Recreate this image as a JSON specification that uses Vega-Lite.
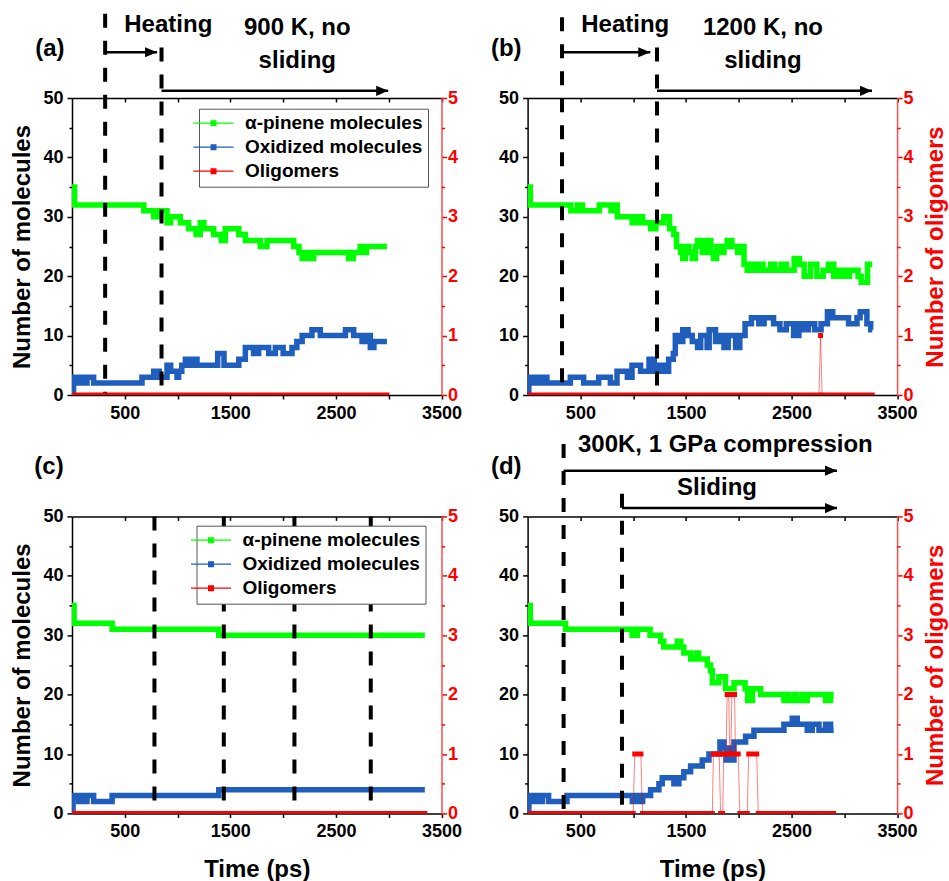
{
"$schema": "https://vega.github.io/schema/vega-lite/v6.json",
"padding": {"left": 10, "top": 11, "right": 5, "bottom": 5},
"columns": 2,
"spacing": {"row": 121.4, "column": 85.6},
"bounds": "flush",
"resolve": {"legend": {"color": "independent"}},
"config": {"view": {"stroke": null}, "font": "Liberation Sans", "axis": {"grid": false}},
"datasets": {
"series": [
{"p":"a","s":"α-pinene molecules","t":0,"y":35},{"p":"a","s":"α-pinene molecules","t":25,"y":32},{"p":"a","s":"α-pinene molecules","t":680,"y":31},{"p":"a","s":"α-pinene molecules","t":774,"y":30},{"p":"a","s":"α-pinene molecules","t":827,"y":31},{"p":"a","s":"α-pinene molecules","t":900,"y":29},{"p":"a","s":"α-pinene molecules","t":935,"y":30},{"p":"a","s":"α-pinene molecules","t":1026,"y":29},{"p":"a","s":"α-pinene molecules","t":1105,"y":28},{"p":"a","s":"α-pinene molecules","t":1175,"y":27},{"p":"a","s":"α-pinene molecules","t":1215,"y":29},{"p":"a","s":"α-pinene molecules","t":1250,"y":28},{"p":"a","s":"α-pinene molecules","t":1342,"y":27},{"p":"a","s":"α-pinene molecules","t":1414,"y":26},{"p":"a","s":"α-pinene molecules","t":1452,"y":28},{"p":"a","s":"α-pinene molecules","t":1580,"y":27},{"p":"a","s":"α-pinene molecules","t":1642,"y":26},{"p":"a","s":"α-pinene molecules","t":1784,"y":25},{"p":"a","s":"α-pinene molecules","t":1847,"y":26},{"p":"a","s":"α-pinene molecules","t":2100,"y":25},{"p":"a","s":"α-pinene molecules","t":2150,"y":24},{"p":"a","s":"α-pinene molecules","t":2180,"y":23},{"p":"a","s":"α-pinene molecules","t":2225,"y":24},{"p":"a","s":"α-pinene molecules","t":2250,"y":23},{"p":"a","s":"α-pinene molecules","t":2290,"y":24},{"p":"a","s":"α-pinene molecules","t":2620,"y":23},{"p":"a","s":"α-pinene molecules","t":2665,"y":24},{"p":"a","s":"α-pinene molecules","t":2730,"y":25},{"p":"a","s":"α-pinene molecules","t":2760,"y":24},{"p":"a","s":"α-pinene molecules","t":2790,"y":25},{"p":"a","s":"α-pinene molecules","t":2983,"y":25},
{"p":"a","s":"Oxidized molecules","t":0,"y":0},{"p":"a","s":"Oxidized molecules","t":15,"y":3},{"p":"a","s":"Oxidized molecules","t":65,"y":2},{"p":"a","s":"Oxidized molecules","t":90,"y":3},{"p":"a","s":"Oxidized molecules","t":125,"y":2},{"p":"a","s":"Oxidized molecules","t":142,"y":3},{"p":"a","s":"Oxidized molecules","t":205,"y":2},{"p":"a","s":"Oxidized molecules","t":663,"y":3},{"p":"a","s":"Oxidized molecules","t":774,"y":4},{"p":"a","s":"Oxidized molecules","t":827,"y":3},{"p":"a","s":"Oxidized molecules","t":900,"y":5},{"p":"a","s":"Oxidized molecules","t":935,"y":4},{"p":"a","s":"Oxidized molecules","t":995,"y":3},{"p":"a","s":"Oxidized molecules","t":1010,"y":4},{"p":"a","s":"Oxidized molecules","t":1040,"y":5},{"p":"a","s":"Oxidized molecules","t":1074,"y":6},{"p":"a","s":"Oxidized molecules","t":1120,"y":5},{"p":"a","s":"Oxidized molecules","t":1150,"y":6},{"p":"a","s":"Oxidized molecules","t":1184,"y":5},{"p":"a","s":"Oxidized molecules","t":1380,"y":7},{"p":"a","s":"Oxidized molecules","t":1440,"y":5},{"p":"a","s":"Oxidized molecules","t":1580,"y":6},{"p":"a","s":"Oxidized molecules","t":1642,"y":8},{"p":"a","s":"Oxidized molecules","t":1720,"y":7},{"p":"a","s":"Oxidized molecules","t":1768,"y":8},{"p":"a","s":"Oxidized molecules","t":1863,"y":7},{"p":"a","s":"Oxidized molecules","t":1926,"y":8},{"p":"a","s":"Oxidized molecules","t":2000,"y":7},{"p":"a","s":"Oxidized molecules","t":2084,"y":8},{"p":"a","s":"Oxidized molecules","t":2130,"y":9},{"p":"a","s":"Oxidized molecules","t":2180,"y":10},{"p":"a","s":"Oxidized molecules","t":2273,"y":11},{"p":"a","s":"Oxidized molecules","t":2352,"y":10},{"p":"a","s":"Oxidized molecules","t":2590,"y":11},{"p":"a","s":"Oxidized molecules","t":2668,"y":10},{"p":"a","s":"Oxidized molecules","t":2747,"y":9},{"p":"a","s":"Oxidized molecules","t":2795,"y":10},{"p":"a","s":"Oxidized molecules","t":2826,"y":8},{"p":"a","s":"Oxidized molecules","t":2860,"y":9},{"p":"a","s":"Oxidized molecules","t":2983,"y":9},
{"p":"b","s":"α-pinene molecules","t":0,"y":35},{"p":"b","s":"α-pinene molecules","t":25,"y":32},{"p":"b","s":"α-pinene molecules","t":410,"y":31},{"p":"b","s":"α-pinene molecules","t":470,"y":32},{"p":"b","s":"α-pinene molecules","t":520,"y":31},{"p":"b","s":"α-pinene molecules","t":680,"y":32},{"p":"b","s":"α-pinene molecules","t":790,"y":31},{"p":"b","s":"α-pinene molecules","t":820,"y":32},{"p":"b","s":"α-pinene molecules","t":850,"y":30},{"p":"b","s":"α-pinene molecules","t":990,"y":29},{"p":"b","s":"α-pinene molecules","t":1040,"y":30},{"p":"b","s":"α-pinene molecules","t":1090,"y":29},{"p":"b","s":"α-pinene molecules","t":1165,"y":28},{"p":"b","s":"α-pinene molecules","t":1215,"y":29},{"p":"b","s":"α-pinene molecules","t":1290,"y":30},{"p":"b","s":"α-pinene molecules","t":1345,"y":28},{"p":"b","s":"α-pinene molecules","t":1385,"y":27},{"p":"b","s":"α-pinene molecules","t":1410,"y":25},{"p":"b","s":"α-pinene molecules","t":1450,"y":24},{"p":"b","s":"α-pinene molecules","t":1470,"y":23},{"p":"b","s":"α-pinene molecules","t":1495,"y":25},{"p":"b","s":"α-pinene molecules","t":1530,"y":24},{"p":"b","s":"α-pinene molecules","t":1560,"y":23},{"p":"b","s":"α-pinene molecules","t":1590,"y":25},{"p":"b","s":"α-pinene molecules","t":1610,"y":26},{"p":"b","s":"α-pinene molecules","t":1655,"y":24},{"p":"b","s":"α-pinene molecules","t":1690,"y":26},{"p":"b","s":"α-pinene molecules","t":1735,"y":24},{"p":"b","s":"α-pinene molecules","t":1760,"y":23},{"p":"b","s":"α-pinene molecules","t":1790,"y":25},{"p":"b","s":"α-pinene molecules","t":1830,"y":24},{"p":"b","s":"α-pinene molecules","t":1860,"y":25},{"p":"b","s":"α-pinene molecules","t":1890,"y":26},{"p":"b","s":"α-pinene molecules","t":1935,"y":25},{"p":"b","s":"α-pinene molecules","t":1990,"y":24},{"p":"b","s":"α-pinene molecules","t":2035,"y":25},{"p":"b","s":"α-pinene molecules","t":2050,"y":22},{"p":"b","s":"α-pinene molecules","t":2080,"y":21},{"p":"b","s":"α-pinene molecules","t":2110,"y":22},{"p":"b","s":"α-pinene molecules","t":2150,"y":21},{"p":"b","s":"α-pinene molecules","t":2190,"y":22},{"p":"b","s":"α-pinene molecules","t":2230,"y":21},{"p":"b","s":"α-pinene molecules","t":2300,"y":22},{"p":"b","s":"α-pinene molecules","t":2340,"y":21},{"p":"b","s":"α-pinene molecules","t":2400,"y":22},{"p":"b","s":"α-pinene molecules","t":2450,"y":21},{"p":"b","s":"α-pinene molecules","t":2525,"y":23},{"p":"b","s":"α-pinene molecules","t":2575,"y":22},{"p":"b","s":"α-pinene molecules","t":2620,"y":20},{"p":"b","s":"α-pinene molecules","t":2680,"y":22},{"p":"b","s":"α-pinene molecules","t":2740,"y":20},{"p":"b","s":"α-pinene molecules","t":2800,"y":21},{"p":"b","s":"α-pinene molecules","t":2850,"y":22},{"p":"b","s":"α-pinene molecules","t":2900,"y":20},{"p":"b","s":"α-pinene molecules","t":2950,"y":21},{"p":"b","s":"α-pinene molecules","t":3000,"y":20},{"p":"b","s":"α-pinene molecules","t":3050,"y":21},{"p":"b","s":"α-pinene molecules","t":3130,"y":20},{"p":"b","s":"α-pinene molecules","t":3160,"y":19},{"p":"b","s":"α-pinene molecules","t":3220,"y":22},{"p":"b","s":"α-pinene molecules","t":3265,"y":22},
{"p":"b","s":"Oxidized molecules","t":0,"y":0},{"p":"b","s":"Oxidized molecules","t":12,"y":3},{"p":"b","s":"Oxidized molecules","t":60,"y":2},{"p":"b","s":"Oxidized molecules","t":75,"y":3},{"p":"b","s":"Oxidized molecules","t":125,"y":2},{"p":"b","s":"Oxidized molecules","t":140,"y":3},{"p":"b","s":"Oxidized molecules","t":183,"y":2},{"p":"b","s":"Oxidized molecules","t":405,"y":3},{"p":"b","s":"Oxidized molecules","t":531,"y":2},{"p":"b","s":"Oxidized molecules","t":673,"y":3},{"p":"b","s":"Oxidized molecules","t":784,"y":2},{"p":"b","s":"Oxidized molecules","t":847,"y":4},{"p":"b","s":"Oxidized molecules","t":945,"y":3},{"p":"b","s":"Oxidized molecules","t":989,"y":5},{"p":"b","s":"Oxidized molecules","t":1070,"y":4},{"p":"b","s":"Oxidized molecules","t":1150,"y":6},{"p":"b","s":"Oxidized molecules","t":1200,"y":4},{"p":"b","s":"Oxidized molecules","t":1250,"y":5},{"p":"b","s":"Oxidized molecules","t":1300,"y":4},{"p":"b","s":"Oxidized molecules","t":1336,"y":6},{"p":"b","s":"Oxidized molecules","t":1380,"y":7},{"p":"b","s":"Oxidized molecules","t":1399,"y":10},{"p":"b","s":"Oxidized molecules","t":1430,"y":9},{"p":"b","s":"Oxidized molecules","t":1470,"y":11},{"p":"b","s":"Oxidized molecules","t":1520,"y":10},{"p":"b","s":"Oxidized molecules","t":1560,"y":9},{"p":"b","s":"Oxidized molecules","t":1610,"y":8},{"p":"b","s":"Oxidized molecules","t":1640,"y":10},{"p":"b","s":"Oxidized molecules","t":1700,"y":8},{"p":"b","s":"Oxidized molecules","t":1720,"y":11},{"p":"b","s":"Oxidized molecules","t":1780,"y":9},{"p":"b","s":"Oxidized molecules","t":1830,"y":10},{"p":"b","s":"Oxidized molecules","t":1860,"y":8},{"p":"b","s":"Oxidized molecules","t":1900,"y":10},{"p":"b","s":"Oxidized molecules","t":1970,"y":8},{"p":"b","s":"Oxidized molecules","t":2010,"y":10},{"p":"b","s":"Oxidized molecules","t":2060,"y":12},{"p":"b","s":"Oxidized molecules","t":2120,"y":13},{"p":"b","s":"Oxidized molecules","t":2190,"y":12},{"p":"b","s":"Oxidized molecules","t":2240,"y":13},{"p":"b","s":"Oxidized molecules","t":2330,"y":12},{"p":"b","s":"Oxidized molecules","t":2390,"y":11},{"p":"b","s":"Oxidized molecules","t":2450,"y":12},{"p":"b","s":"Oxidized molecules","t":2520,"y":10},{"p":"b","s":"Oxidized molecules","t":2570,"y":12},{"p":"b","s":"Oxidized molecules","t":2620,"y":11},{"p":"b","s":"Oxidized molecules","t":2660,"y":12},{"p":"b","s":"Oxidized molecules","t":2720,"y":11},{"p":"b","s":"Oxidized molecules","t":2780,"y":12},{"p":"b","s":"Oxidized molecules","t":2840,"y":14},{"p":"b","s":"Oxidized molecules","t":2890,"y":13},{"p":"b","s":"Oxidized molecules","t":3040,"y":12},{"p":"b","s":"Oxidized molecules","t":3120,"y":13},{"p":"b","s":"Oxidized molecules","t":3150,"y":14},{"p":"b","s":"Oxidized molecules","t":3214,"y":12},{"p":"b","s":"Oxidized molecules","t":3250,"y":11},{"p":"b","s":"Oxidized molecules","t":3265,"y":11},
{"p":"c","s":"α-pinene molecules","t":0,"y":35},{"p":"c","s":"α-pinene molecules","t":20,"y":32},{"p":"c","s":"α-pinene molecules","t":380,"y":31},{"p":"c","s":"α-pinene molecules","t":1390,"y":30},{"p":"c","s":"α-pinene molecules","t":3342,"y":30},
{"p":"c","s":"Oxidized molecules","t":0,"y":0},{"p":"c","s":"Oxidized molecules","t":10,"y":3},{"p":"c","s":"Oxidized molecules","t":63,"y":2},{"p":"c","s":"Oxidized molecules","t":88,"y":3},{"p":"c","s":"Oxidized molecules","t":120,"y":2},{"p":"c","s":"Oxidized molecules","t":142,"y":3},{"p":"c","s":"Oxidized molecules","t":205,"y":2},{"p":"c","s":"Oxidized molecules","t":380,"y":3},{"p":"c","s":"Oxidized molecules","t":1390,"y":4},{"p":"c","s":"Oxidized molecules","t":3342,"y":4},
{"p":"d","s":"α-pinene molecules","t":0,"y":35},{"p":"d","s":"α-pinene molecules","t":25,"y":32},{"p":"d","s":"α-pinene molecules","t":360,"y":31},{"p":"d","s":"α-pinene molecules","t":990,"y":30},{"p":"d","s":"α-pinene molecules","t":1040,"y":31},{"p":"d","s":"α-pinene molecules","t":1160,"y":30},{"p":"d","s":"α-pinene molecules","t":1260,"y":29},{"p":"d","s":"α-pinene molecules","t":1290,"y":28},{"p":"d","s":"α-pinene molecules","t":1418,"y":29},{"p":"d","s":"α-pinene molecules","t":1450,"y":28},{"p":"d","s":"α-pinene molecules","t":1480,"y":27},{"p":"d","s":"α-pinene molecules","t":1545,"y":26},{"p":"d","s":"α-pinene molecules","t":1600,"y":27},{"p":"d","s":"α-pinene molecules","t":1620,"y":26},{"p":"d","s":"α-pinene molecules","t":1702,"y":25},{"p":"d","s":"α-pinene molecules","t":1733,"y":24},{"p":"d","s":"α-pinene molecules","t":1750,"y":22},{"p":"d","s":"α-pinene molecules","t":1812,"y":23},{"p":"d","s":"α-pinene molecules","t":1875,"y":21},{"p":"d","s":"α-pinene molecules","t":1955,"y":22},{"p":"d","s":"α-pinene molecules","t":2060,"y":21},{"p":"d","s":"α-pinene molecules","t":2085,"y":19},{"p":"d","s":"α-pinene molecules","t":2130,"y":21},{"p":"d","s":"α-pinene molecules","t":2207,"y":20},{"p":"d","s":"α-pinene molecules","t":2428,"y":19},{"p":"d","s":"α-pinene molecules","t":2460,"y":20},{"p":"d","s":"α-pinene molecules","t":2475,"y":19},{"p":"d","s":"α-pinene molecules","t":2530,"y":20},{"p":"d","s":"α-pinene molecules","t":2545,"y":19},{"p":"d","s":"α-pinene molecules","t":2600,"y":20},{"p":"d","s":"α-pinene molecules","t":2615,"y":19},{"p":"d","s":"α-pinene molecules","t":2649,"y":20},{"p":"d","s":"α-pinene molecules","t":2822,"y":19},{"p":"d","s":"α-pinene molecules","t":2870,"y":20},{"p":"d","s":"α-pinene molecules","t":2899,"y":20},
{"p":"d","s":"Oxidized molecules","t":0,"y":0},{"p":"d","s":"Oxidized molecules","t":12,"y":3},{"p":"d","s":"Oxidized molecules","t":60,"y":2},{"p":"d","s":"Oxidized molecules","t":75,"y":3},{"p":"d","s":"Oxidized molecules","t":125,"y":2},{"p":"d","s":"Oxidized molecules","t":140,"y":3},{"p":"d","s":"Oxidized molecules","t":199,"y":2},{"p":"d","s":"Oxidized molecules","t":373,"y":3},{"p":"d","s":"Oxidized molecules","t":992,"y":2},{"p":"d","s":"Oxidized molecules","t":1040,"y":3},{"p":"d","s":"Oxidized molecules","t":1065,"y":2},{"p":"d","s":"Oxidized molecules","t":1090,"y":3},{"p":"d","s":"Oxidized molecules","t":1165,"y":4},{"p":"d","s":"Oxidized molecules","t":1244,"y":5},{"p":"d","s":"Oxidized molecules","t":1275,"y":6},{"p":"d","s":"Oxidized molecules","t":1386,"y":5},{"p":"d","s":"Oxidized molecules","t":1433,"y":6},{"p":"d","s":"Oxidized molecules","t":1480,"y":7},{"p":"d","s":"Oxidized molecules","t":1544,"y":8},{"p":"d","s":"Oxidized molecules","t":1654,"y":9},{"p":"d","s":"Oxidized molecules","t":1718,"y":10},{"p":"d","s":"Oxidized molecules","t":1822,"y":12},{"p":"d","s":"Oxidized molecules","t":1860,"y":11},{"p":"d","s":"Oxidized molecules","t":1880,"y":9},{"p":"d","s":"Oxidized molecules","t":1910,"y":11},{"p":"d","s":"Oxidized molecules","t":1925,"y":9},{"p":"d","s":"Oxidized molecules","t":1955,"y":12},{"p":"d","s":"Oxidized molecules","t":2065,"y":13},{"p":"d","s":"Oxidized molecules","t":2144,"y":14},{"p":"d","s":"Oxidized molecules","t":2428,"y":15},{"p":"d","s":"Oxidized molecules","t":2507,"y":16},{"p":"d","s":"Oxidized molecules","t":2554,"y":15},{"p":"d","s":"Oxidized molecules","t":2649,"y":14},{"p":"d","s":"Oxidized molecules","t":2696,"y":15},{"p":"d","s":"Oxidized molecules","t":2760,"y":14},{"p":"d","s":"Oxidized molecules","t":2822,"y":15},{"p":"d","s":"Oxidized molecules","t":2870,"y":14},{"p":"d","s":"Oxidized molecules","t":2899,"y":14}
],
"red": [
{"p":"a","t0":0,"t1":2983,"y":0},
{"p":"b","t0":0,"t1":2760,"y":0},{"p":"b","t0":2775,"t1":2775,"y":1},{"p":"b","t0":2790,"t1":3265,"y":0},
{"p":"c","t0":0,"t1":3342,"y":0},
{"p":"d","t0":0,"t1":1000,"y":0},{"p":"d","t0":1015,"t1":1073,"y":1},{"p":"d","t0":1088,"t1":1750,"y":0},{"p":"d","t0":1760,"t1":1815,"y":1},{"p":"d","t0":1828,"t1":1848,"y":0},{"p":"d","t0":1858,"t1":1880,"y":1},{"p":"d","t0":1890,"t1":1905,"y":2},{"p":"d","t0":1915,"t1":1925,"y":1},{"p":"d","t0":1935,"t1":1960,"y":2},{"p":"d","t0":1970,"t1":1995,"y":1},{"p":"d","t0":2010,"t1":2080,"y":0},{"p":"d","t0":2095,"t1":2170,"y":1},{"p":"d","t0":2185,"t1":2899,"y":0}
],
"dash": [
{"p":"a","t":314,"y":64.2,"y2":0},{"p":"a","t":848,"y":58.5,"y2":0},
{"p":"b","t":326,"y":63.6,"y2":0},{"p":"b","t":1226,"y":58.5,"y2":0},
{"p":"c","t":781,"y":50,"y2":0},{"p":"c","t":1438,"y":50,"y2":0},{"p":"c","t":2107,"y":50,"y2":0},{"p":"c","t":2830,"y":50,"y2":0},
{"p":"d","t":341,"y":62.2,"y2":0},{"p":"d","t":894,"y":53.8,"y2":0}
],
"arrow": [
{"p":"a","t":314,"t2":806,"y":57.7},{"p":"a","t":848,"t2":2995,"y":51.2},
{"p":"b","t":326,"t2":1162,"y":57.7},{"p":"b","t":1226,"t2":3262,"y":51.2},
{"p":"d","t":341,"t2":2931,"y":57.7},{"p":"d","t":894,"t2":2931,"y":51.4}
],
"label": [
{"p":"a","t":-210,"y":58.3,"text":"(a)"},{"p":"a","t":912,"y":62.3,"text":"Heating"},{"p":"a","t":2134,"y":61.8,"text":"900 K, no"},{"p":"a","t":2134,"y":56.3,"text":"sliding"},
{"p":"b","t":-202,"y":58.3,"text":"(b)"},{"p":"b","t":925,"y":62.3,"text":"Heating"},{"p":"b","t":2229,"y":61.8,"text":"1200 K, no"},{"p":"b","t":2229,"y":56.3,"text":"sliding"},
{"p":"c","t":-218,"y":58.4,"text":"(c)"},
{"p":"d","t":-202,"y":58.4,"text":"(d)"},{"p":"d","t":1873,"y":62.1,"text":"300K, 1 GPa compression"},{"p":"d","t":1794,"y":54.7,"text":"Sliding"}
]
},
"concat": [
{
"width": 369.5, "height": 297,
"resolve": {"scale": {"y": "independent"}, "axis": {"x": "independent"}},
"layer": [
{"resolve": {"axis": {"y": "independent"}}, "layer": [
{"data": {"name": "series"}, "transform": [{"filter": "datum.p == 'a'"}],
 "mark": {"type": "line", "interpolate": "step-after", "strokeWidth": 5.5, "clip": true},
 "encoding": {
  "x": {"field": "t", "type": "quantitative", "scale": {"domain": [0, 3500], "nice": false}, "axis": {"orient": "bottom", "values": [500,1000,1500,2000,2500,3000,3500], "labelExpr": "datum.value % 1000 == 500 ? datum.label : ''", "format": "d", "title": null, "tickSize": 4, "tickWidth": 1.5, "tickColor": "black", "domainColor": "black", "domainWidth": 1.5, "labelFontSize": 18, "labelFontWeight": "bold", "labelColor": "black", "labelPadding": 5, "labelOverlap": false, "labelFlush": false, "labelBound": false}},
  "y": {"field": "y", "type": "quantitative", "scale": {"domain": [0, 50], "nice": false}, "axis": {"orient": "left", "values": [0,10,20,30,40,50], "format": "d", "title": "Number of molecules", "tickSize": 5, "tickWidth": 1.5, "tickColor": "black", "domainColor": "black", "domainWidth": 1.5, "labelFontSize": 18, "labelFontWeight": "bold", "labelColor": "black", "labelPadding": 4, "titleFontSize": 24, "titleFontWeight": "bold", "titleColor": "black", "titlePadding": 8}},
  "color": {"field": "s", "type": "nominal", "scale": {"domain": ["α-pinene molecules", "Oxidized molecules", "Oligomers"], "range": ["#00ff00", "#1f5ebc", "#ff0000"]}, "legend": {"title": null, "orient": "none", "legendX": 127, "legendY": 10.7, "symbolType": "M-3.33,0L3.33,0M-0.4,-0.4L0.4,-0.4L0.4,0.4L-0.4,0.4ZM-0.25,-0.25L0.25,-0.25L0.25,0.25L-0.25,0.25ZM-0.1,-0.1L0.1,-0.1L0.1,0.1L-0.1,0.1Z", "symbolSize": 144, "symbolStrokeWidth": 1.2, "labelFontSize": 19, "labelFontWeight": "bold", "labelColor": "black", "labelLimit": 300, "labelOffset": 22, "strokeColor": "#555555", "fillColor": "white", "padding": 5, "rowPadding": 4}}
 }},
{"data": {"name": "dash"}, "transform": [{"filter": "datum.p == 'a'"}],
 "mark": {"type": "rule", "strokeWidth": 4, "strokeDash": [14, 13], "color": "black"},
 "encoding": {"x": {"field": "t", "type": "quantitative", "scale": {"domain": [0, 3500], "nice": false}}, "y": {"field": "y", "type": "quantitative", "scale": {"domain": [0, 50], "nice": false}, "axis": {"orient": "left", "values": [5,15,25,35,45], "labels": false, "domain": false, "title": null, "tickSize": 3, "tickWidth": 1.5, "tickColor": "black"}}, "y2": {"field": "y2"}}},
{"data": {"name": "arrow"}, "transform": [{"filter": "datum.p == 'a'"}],
 "mark": {"type": "rule", "strokeWidth": 2.5, "color": "black"},
 "encoding": {"x": {"field": "t", "type": "quantitative", "scale": {"domain": [0, 3500], "nice": false}}, "x2": {"field": "t2"}, "y": {"field": "y", "type": "quantitative", "scale": {"domain": [0, 50], "nice": false}, "axis": null}}},
{"data": {"name": "arrow"}, "transform": [{"filter": "datum.p == 'a'"}],
 "mark": {"type": "point", "shape": "M-2,-0.85L0,0L-2,0.85Z", "size": 144, "filled": true, "color": "black", "opacity": 1},
 "encoding": {"x": {"field": "t2", "type": "quantitative", "scale": {"domain": [0, 3500], "nice": false}}, "y": {"field": "y", "type": "quantitative", "scale": {"domain": [0, 50], "nice": false}, "axis": null}}},
{"data": {"name": "label"}, "transform": [{"filter": "datum.p == 'a'"}],
 "mark": {"type": "text", "fontSize": 24, "fontWeight": "bold", "color": "black"},
 "encoding": {"x": {"field": "t", "type": "quantitative", "scale": {"domain": [0, 3500], "nice": false}}, "y": {"field": "y", "type": "quantitative", "scale": {"domain": [0, 50], "nice": false}, "axis": null}, "text": {"field": "text"}}}
]},
{"resolve": {"axis": {"y": "independent"}}, "layer": [
{"data": {"name": "red"}, "transform": [{"filter": "datum.p == 'a'"}],
 "mark": {"type": "rule", "strokeWidth": 5, "color": "#ff0000", "strokeCap": "square", "clip": true},
 "encoding": {
  "x": {"field": "t0", "type": "quantitative", "scale": {"domain": [0, 3500], "nice": false}, "axis": {"orient": "top", "values": [500,1000,1500,2000,2500,3000,3500], "labels": false, "title": null, "tickSize": -4, "tickWidth": 1.5, "tickColor": "black", "domainColor": "black", "domainWidth": 1.5}},
  "x2": {"field": "t1"},
  "y": {"field": "y", "type": "quantitative", "scale": {"domain": [0, 5], "nice": false}, "axis": {"orient": "right", "values": [0,1,2,3,4,5], "format": "d", "title": null, "tickSize": 5, "tickWidth": 1.5, "tickColor": "#ff0000", "domainColor": "#ff4d4d", "domainWidth": 1.5, "labelFontSize": 18, "labelFontWeight": "bold", "labelColor": "#ff0000", "labelPadding": 1}}
 }},
{"data": {"name": "red"}, "transform": [{"filter": "datum.p == 'a'"}, {"fold": ["t0", "t1"], "as": ["k", "t"]}],
 "mark": {"type": "line", "strokeWidth": 1, "color": "#ff0000", "opacity": 0.5, "clip": true},
 "encoding": {"x": {"field": "t", "type": "quantitative", "scale": {"domain": [0, 3500], "nice": false}}, "y": {"field": "y", "type": "quantitative", "scale": {"domain": [0, 5], "nice": false}, "axis": {"orient": "right", "values": [0.5,1.5,2.5,3.5,4.5], "labels": false, "domain": false, "title": null, "tickSize": 3, "tickWidth": 1.5, "tickColor": "#ff0000"}}}}
]}
]
},
{
"width": 369.5, "height": 297,
"resolve": {"scale": {"y": "independent"}, "axis": {"x": "independent"}},
"layer": [
{"resolve": {"axis": {"y": "independent"}}, "layer": [
{"data": {"name": "series"}, "transform": [{"filter": "datum.p == 'b'"}],
 "mark": {"type": "line", "interpolate": "step-after", "strokeWidth": 5.5, "clip": true},
 "encoding": {
  "x": {"field": "t", "type": "quantitative", "scale": {"domain": [0, 3500], "nice": false}, "axis": {"orient": "bottom", "values": [500,1000,1500,2000,2500,3000,3500], "labelExpr": "datum.value % 1000 == 500 ? datum.label : ''", "format": "d", "title": null, "tickSize": 4, "tickWidth": 1.5, "tickColor": "black", "domainColor": "black", "domainWidth": 1.5, "labelFontSize": 18, "labelFontWeight": "bold", "labelColor": "black", "labelPadding": 5, "labelOverlap": false, "labelFlush": false, "labelBound": false}},
  "y": {"field": "y", "type": "quantitative", "scale": {"domain": [0, 50], "nice": false}, "axis": {"orient": "left", "values": [0,10,20,30,40,50], "format": "d", "title": null, "tickSize": 5, "tickWidth": 1.5, "tickColor": "black", "domainColor": "black", "domainWidth": 1.5, "labelFontSize": 18, "labelFontWeight": "bold", "labelColor": "black", "labelPadding": 4}},
  "color": {"field": "s", "type": "nominal", "scale": {"domain": ["α-pinene molecules", "Oxidized molecules", "Oligomers"], "range": ["#00ff00", "#1f5ebc", "#ff0000"]}, "legend": null}
 }},
{"data": {"name": "dash"}, "transform": [{"filter": "datum.p == 'b'"}],
 "mark": {"type": "rule", "strokeWidth": 4, "strokeDash": [14, 13], "color": "black"},
 "encoding": {"x": {"field": "t", "type": "quantitative", "scale": {"domain": [0, 3500], "nice": false}}, "y": {"field": "y", "type": "quantitative", "scale": {"domain": [0, 50], "nice": false}, "axis": {"orient": "left", "values": [5,15,25,35,45], "labels": false, "domain": false, "title": null, "tickSize": 3, "tickWidth": 1.5, "tickColor": "black"}}, "y2": {"field": "y2"}}},
{"data": {"name": "arrow"}, "transform": [{"filter": "datum.p == 'b'"}],
 "mark": {"type": "rule", "strokeWidth": 2.5, "color": "black"},
 "encoding": {"x": {"field": "t", "type": "quantitative", "scale": {"domain": [0, 3500], "nice": false}}, "x2": {"field": "t2"}, "y": {"field": "y", "type": "quantitative", "scale": {"domain": [0, 50], "nice": false}, "axis": null}}},
{"data": {"name": "arrow"}, "transform": [{"filter": "datum.p == 'b'"}],
 "mark": {"type": "point", "shape": "M-2,-0.85L0,0L-2,0.85Z", "size": 144, "filled": true, "color": "black", "opacity": 1},
 "encoding": {"x": {"field": "t2", "type": "quantitative", "scale": {"domain": [0, 3500], "nice": false}}, "y": {"field": "y", "type": "quantitative", "scale": {"domain": [0, 50], "nice": false}, "axis": null}}},
{"data": {"name": "label"}, "transform": [{"filter": "datum.p == 'b'"}],
 "mark": {"type": "text", "fontSize": 24, "fontWeight": "bold", "color": "black"},
 "encoding": {"x": {"field": "t", "type": "quantitative", "scale": {"domain": [0, 3500], "nice": false}}, "y": {"field": "y", "type": "quantitative", "scale": {"domain": [0, 50], "nice": false}, "axis": null}, "text": {"field": "text"}}}
]},
{"resolve": {"axis": {"y": "independent"}}, "layer": [
{"data": {"name": "red"}, "transform": [{"filter": "datum.p == 'b'"}],
 "mark": {"type": "rule", "strokeWidth": 5, "color": "#ff0000", "strokeCap": "square", "clip": true},
 "encoding": {
  "x": {"field": "t0", "type": "quantitative", "scale": {"domain": [0, 3500], "nice": false}, "axis": {"orient": "top", "values": [500,1000,1500,2000,2500,3000,3500], "labels": false, "title": null, "tickSize": -4, "tickWidth": 1.5, "tickColor": "black", "domainColor": "black", "domainWidth": 1.5}},
  "x2": {"field": "t1"},
  "y": {"field": "y", "type": "quantitative", "scale": {"domain": [0, 5], "nice": false}, "axis": {"orient": "right", "values": [0,1,2,3,4,5], "format": "d", "title": "Number of oligomers", "tickSize": 5, "tickWidth": 1.5, "tickColor": "#ff0000", "domainColor": "#ff4d4d", "domainWidth": 1.5, "labelFontSize": 18, "labelFontWeight": "bold", "labelColor": "#ff0000", "labelPadding": 1, "titleFontSize": 24, "titleFontWeight": "bold", "titleColor": "#ff0000", "titleAngle": 270, "titleBaseline": "top", "titlePadding": 10}}
 }},
{"data": {"name": "red"}, "transform": [{"filter": "datum.p == 'b'"}, {"fold": ["t0", "t1"], "as": ["k", "t"]}],
 "mark": {"type": "line", "strokeWidth": 1, "color": "#ff0000", "opacity": 0.5, "clip": true},
 "encoding": {"x": {"field": "t", "type": "quantitative", "scale": {"domain": [0, 3500], "nice": false}}, "y": {"field": "y", "type": "quantitative", "scale": {"domain": [0, 5], "nice": false}, "axis": {"orient": "right", "values": [0.5,1.5,2.5,3.5,4.5], "labels": false, "domain": false, "title": null, "tickSize": 3, "tickWidth": 1.5, "tickColor": "#ff0000"}}}}
]}
]
},
{
"width": 369.5, "height": 297,
"resolve": {"scale": {"y": "independent"}, "axis": {"x": "independent"}},
"layer": [
{"resolve": {"axis": {"y": "independent"}}, "layer": [
{"data": {"name": "series"}, "transform": [{"filter": "datum.p == 'c'"}],
 "mark": {"type": "line", "interpolate": "step-after", "strokeWidth": 5.5, "clip": true},
 "encoding": {
  "x": {"field": "t", "type": "quantitative", "scale": {"domain": [0, 3500], "nice": false}, "axis": {"orient": "bottom", "values": [500,1000,1500,2000,2500,3000,3500], "labelExpr": "datum.value % 1000 == 500 ? datum.label : ''", "format": "d", "title": "Time (ps)", "tickSize": 4, "tickWidth": 1.5, "tickColor": "black", "domainColor": "black", "domainWidth": 1.5, "labelFontSize": 18, "labelFontWeight": "bold", "labelColor": "black", "labelPadding": 5, "labelOverlap": false, "labelFlush": false, "labelBound": false, "titleFontSize": 24, "titleFontWeight": "bold", "titleColor": "black", "titlePadding": 17}},
  "y": {"field": "y", "type": "quantitative", "scale": {"domain": [0, 50], "nice": false}, "axis": {"orient": "left", "values": [0,10,20,30,40,50], "format": "d", "title": "Number of molecules", "tickSize": 5, "tickWidth": 1.5, "tickColor": "black", "domainColor": "black", "domainWidth": 1.5, "labelFontSize": 18, "labelFontWeight": "bold", "labelColor": "black", "labelPadding": 4, "titleFontSize": 24, "titleFontWeight": "bold", "titleColor": "black", "titlePadding": 8}},
  "color": {"field": "s", "type": "nominal", "scale": {"domain": ["α-pinene molecules", "Oxidized molecules", "Oligomers"], "range": ["#00ff00", "#1f5ebc", "#ff0000"]}, "legend": {"title": null, "orient": "none", "legendX": 124.5, "legendY": 9.3, "symbolType": "M-3.33,0L3.33,0M-0.4,-0.4L0.4,-0.4L0.4,0.4L-0.4,0.4ZM-0.25,-0.25L0.25,-0.25L0.25,0.25L-0.25,0.25ZM-0.1,-0.1L0.1,-0.1L0.1,0.1L-0.1,0.1Z", "symbolSize": 144, "symbolStrokeWidth": 1.2, "labelFontSize": 19, "labelFontWeight": "bold", "labelColor": "black", "labelLimit": 300, "labelOffset": 22, "strokeColor": "#555555", "fillColor": "white", "padding": 5, "rowPadding": 4}}
 }},
{"data": {"name": "dash"}, "transform": [{"filter": "datum.p == 'c'"}],
 "mark": {"type": "rule", "strokeWidth": 4, "strokeDash": [14, 13], "color": "black"},
 "encoding": {"x": {"field": "t", "type": "quantitative", "scale": {"domain": [0, 3500], "nice": false}}, "y": {"field": "y", "type": "quantitative", "scale": {"domain": [0, 50], "nice": false}, "axis": {"orient": "left", "values": [5,15,25,35,45], "labels": false, "domain": false, "title": null, "tickSize": 3, "tickWidth": 1.5, "tickColor": "black"}}, "y2": {"field": "y2"}}},
{"data": {"name": "label"}, "transform": [{"filter": "datum.p == 'c'"}],
 "mark": {"type": "text", "fontSize": 24, "fontWeight": "bold", "color": "black"},
 "encoding": {"x": {"field": "t", "type": "quantitative", "scale": {"domain": [0, 3500], "nice": false}}, "y": {"field": "y", "type": "quantitative", "scale": {"domain": [0, 50], "nice": false}, "axis": null}, "text": {"field": "text"}}}
]},
{"resolve": {"axis": {"y": "independent"}}, "layer": [
{"data": {"name": "red"}, "transform": [{"filter": "datum.p == 'c'"}],
 "mark": {"type": "rule", "strokeWidth": 5, "color": "#ff0000", "strokeCap": "square", "clip": true},
 "encoding": {
  "x": {"field": "t0", "type": "quantitative", "scale": {"domain": [0, 3500], "nice": false}, "axis": {"orient": "top", "values": [500,1000,1500,2000,2500,3000,3500], "labels": false, "title": null, "tickSize": -4, "tickWidth": 1.5, "tickColor": "black", "domainColor": "black", "domainWidth": 1.5}},
  "x2": {"field": "t1"},
  "y": {"field": "y", "type": "quantitative", "scale": {"domain": [0, 5], "nice": false}, "axis": {"orient": "right", "values": [0,1,2,3,4,5], "format": "d", "title": null, "tickSize": 5, "tickWidth": 1.5, "tickColor": "#ff0000", "domainColor": "#ff4d4d", "domainWidth": 1.5, "labelFontSize": 18, "labelFontWeight": "bold", "labelColor": "#ff0000", "labelPadding": 1}}
 }},
{"data": {"name": "red"}, "transform": [{"filter": "datum.p == 'c'"}, {"fold": ["t0", "t1"], "as": ["k", "t"]}],
 "mark": {"type": "line", "strokeWidth": 1, "color": "#ff0000", "opacity": 0.5, "clip": true},
 "encoding": {"x": {"field": "t", "type": "quantitative", "scale": {"domain": [0, 3500], "nice": false}}, "y": {"field": "y", "type": "quantitative", "scale": {"domain": [0, 5], "nice": false}, "axis": {"orient": "right", "values": [0.5,1.5,2.5,3.5,4.5], "labels": false, "domain": false, "title": null, "tickSize": 3, "tickWidth": 1.5, "tickColor": "#ff0000"}}}}
]}
]
},
{
"width": 369.5, "height": 297,
"resolve": {"scale": {"y": "independent"}, "axis": {"x": "independent"}},
"layer": [
{"resolve": {"axis": {"y": "independent"}}, "layer": [
{"data": {"name": "series"}, "transform": [{"filter": "datum.p == 'd'"}],
 "mark": {"type": "line", "interpolate": "step-after", "strokeWidth": 5.5, "clip": true},
 "encoding": {
  "x": {"field": "t", "type": "quantitative", "scale": {"domain": [0, 3500], "nice": false}, "axis": {"orient": "bottom", "values": [500,1000,1500,2000,2500,3000,3500], "labelExpr": "datum.value % 1000 == 500 ? datum.label : ''", "format": "d", "title": "Time (ps)", "tickSize": 4, "tickWidth": 1.5, "tickColor": "black", "domainColor": "black", "domainWidth": 1.5, "labelFontSize": 18, "labelFontWeight": "bold", "labelColor": "black", "labelPadding": 5, "labelOverlap": false, "labelFlush": false, "labelBound": false, "titleFontSize": 24, "titleFontWeight": "bold", "titleColor": "black", "titlePadding": 17}},
  "y": {"field": "y", "type": "quantitative", "scale": {"domain": [0, 50], "nice": false}, "axis": {"orient": "left", "values": [0,10,20,30,40,50], "format": "d", "title": null, "tickSize": 5, "tickWidth": 1.5, "tickColor": "black", "domainColor": "black", "domainWidth": 1.5, "labelFontSize": 18, "labelFontWeight": "bold", "labelColor": "black", "labelPadding": 4}},
  "color": {"field": "s", "type": "nominal", "scale": {"domain": ["α-pinene molecules", "Oxidized molecules", "Oligomers"], "range": ["#00ff00", "#1f5ebc", "#ff0000"]}, "legend": null}
 }},
{"data": {"name": "dash"}, "transform": [{"filter": "datum.p == 'd'"}],
 "mark": {"type": "rule", "strokeWidth": 4, "strokeDash": [14, 13], "color": "black"},
 "encoding": {"x": {"field": "t", "type": "quantitative", "scale": {"domain": [0, 3500], "nice": false}}, "y": {"field": "y", "type": "quantitative", "scale": {"domain": [0, 50], "nice": false}, "axis": {"orient": "left", "values": [5,15,25,35,45], "labels": false, "domain": false, "title": null, "tickSize": 3, "tickWidth": 1.5, "tickColor": "black"}}, "y2": {"field": "y2"}}},
{"data": {"name": "arrow"}, "transform": [{"filter": "datum.p == 'd'"}],
 "mark": {"type": "rule", "strokeWidth": 2.5, "color": "black"},
 "encoding": {"x": {"field": "t", "type": "quantitative", "scale": {"domain": [0, 3500], "nice": false}}, "x2": {"field": "t2"}, "y": {"field": "y", "type": "quantitative", "scale": {"domain": [0, 50], "nice": false}, "axis": null}}},
{"data": {"name": "arrow"}, "transform": [{"filter": "datum.p == 'd'"}],
 "mark": {"type": "point", "shape": "M-2,-0.85L0,0L-2,0.85Z", "size": 144, "filled": true, "color": "black", "opacity": 1},
 "encoding": {"x": {"field": "t2", "type": "quantitative", "scale": {"domain": [0, 3500], "nice": false}}, "y": {"field": "y", "type": "quantitative", "scale": {"domain": [0, 50], "nice": false}, "axis": null}}},
{"data": {"name": "label"}, "transform": [{"filter": "datum.p == 'd'"}],
 "mark": {"type": "text", "fontSize": 24, "fontWeight": "bold", "color": "black"},
 "encoding": {"x": {"field": "t", "type": "quantitative", "scale": {"domain": [0, 3500], "nice": false}}, "y": {"field": "y", "type": "quantitative", "scale": {"domain": [0, 50], "nice": false}, "axis": null}, "text": {"field": "text"}}}
]},
{"resolve": {"axis": {"y": "independent"}}, "layer": [
{"data": {"name": "red"}, "transform": [{"filter": "datum.p == 'd'"}],
 "mark": {"type": "rule", "strokeWidth": 5, "color": "#ff0000", "strokeCap": "square", "clip": true},
 "encoding": {
  "x": {"field": "t0", "type": "quantitative", "scale": {"domain": [0, 3500], "nice": false}, "axis": {"orient": "top", "values": [500,1000,1500,2000,2500,3000,3500], "labels": false, "title": null, "tickSize": -4, "tickWidth": 1.5, "tickColor": "black", "domainColor": "black", "domainWidth": 1.5}},
  "x2": {"field": "t1"},
  "y": {"field": "y", "type": "quantitative", "scale": {"domain": [0, 5], "nice": false}, "axis": {"orient": "right", "values": [0,1,2,3,4,5], "format": "d", "title": "Number of oligomers", "tickSize": 5, "tickWidth": 1.5, "tickColor": "#ff0000", "domainColor": "#ff4d4d", "domainWidth": 1.5, "labelFontSize": 18, "labelFontWeight": "bold", "labelColor": "#ff0000", "labelPadding": 1, "titleFontSize": 24, "titleFontWeight": "bold", "titleColor": "#ff0000", "titleAngle": 270, "titleBaseline": "top", "titlePadding": 10}}
 }},
{"data": {"name": "red"}, "transform": [{"filter": "datum.p == 'd'"}, {"fold": ["t0", "t1"], "as": ["k", "t"]}],
 "mark": {"type": "line", "strokeWidth": 1, "color": "#ff0000", "opacity": 0.5, "clip": true},
 "encoding": {"x": {"field": "t", "type": "quantitative", "scale": {"domain": [0, 3500], "nice": false}}, "y": {"field": "y", "type": "quantitative", "scale": {"domain": [0, 5], "nice": false}, "axis": {"orient": "right", "values": [0.5,1.5,2.5,3.5,4.5], "labels": false, "domain": false, "title": null, "tickSize": 3, "tickWidth": 1.5, "tickColor": "#ff0000"}}}}
]}
]
}
]
}
